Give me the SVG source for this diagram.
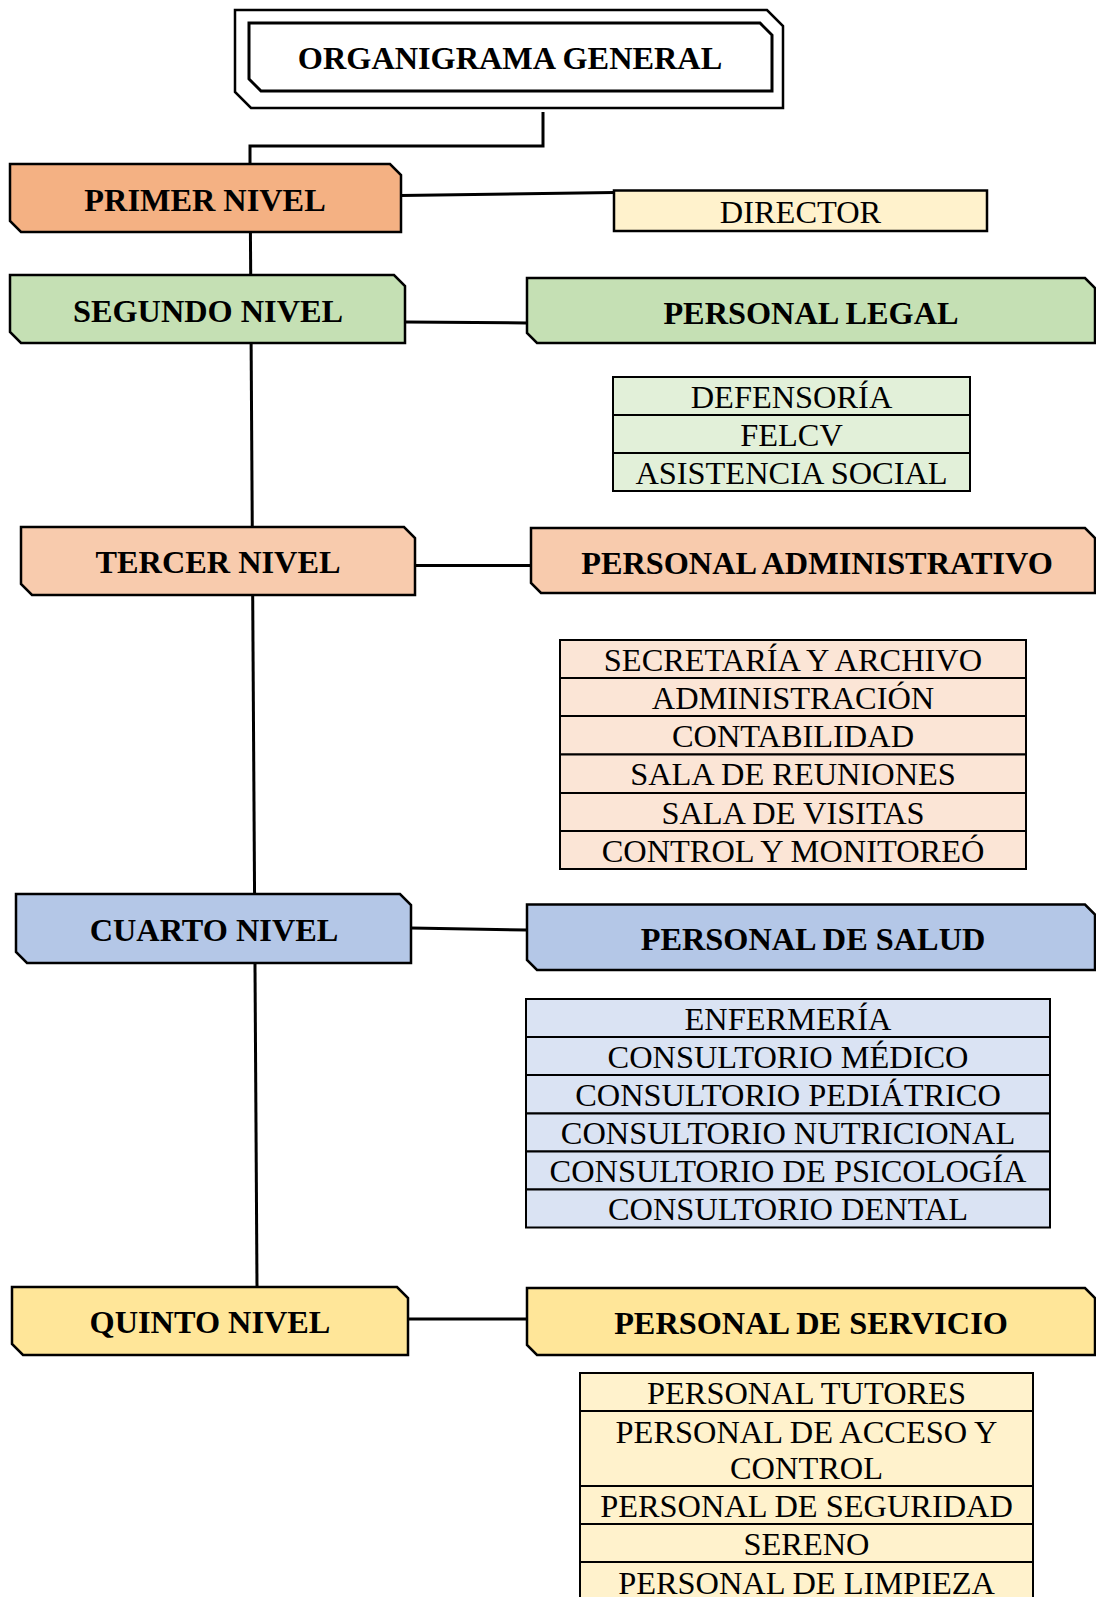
<svg xmlns="http://www.w3.org/2000/svg" width="1096" height="1597" viewBox="0 0 1096 1597">
<style>
.box{stroke:#000;stroke-width:2.5;stroke-linejoin:miter}
.tbl{stroke:#000;stroke-width:2}
.con{stroke:#000;stroke-width:3;fill:none}
.h{font-family:"Liberation Serif","Times New Roman",serif;font-weight:bold;font-size:32.3px;text-anchor:middle;fill:#000}
.t{font-family:"Liberation Serif","Times New Roman",serif;font-size:32.4px;text-anchor:middle;fill:#000}
.orange{fill:#F4B183}.green{fill:#C5E0B4}.peach{fill:#F8CBAD}.blue{fill:#B4C7E7}.gold{fill:#FFE699}
.cream{fill:#FFF2CC}.lgreen{fill:#E2F0D9}.lpeach{fill:#FBE5D6}.lblue{fill:#DAE3F3}
</style>
<rect width="1096" height="1597" fill="#fff"/>
<g id="connectors">
<polyline class="con" points="543,112 543,146 250,146 250,164"/>
<line class="con" x1="250" y1="164" x2="257" y2="1288"/>
<line class="con" x1="401" y1="195.5" x2="614" y2="192.5"/>
<line class="con" x1="405" y1="322" x2="527" y2="323"/>
<line class="con" x1="415" y1="565.5" x2="531" y2="565.5"/>
<line class="con" x1="411" y1="928" x2="527" y2="930"/>
<line class="con" x1="408" y1="1319" x2="527" y2="1319"/>
</g>
<g id="title">
<polygon points="235,10 767,10 783,26 783,108 251,108 235,92" fill="#fff" stroke="#000" stroke-width="2.5"/>
<polygon points="249,23 760,23 772,35 772,91 261,91 249,79" fill="#fff" stroke="#000" stroke-width="3"/>
<text class="h" x="510" y="69">ORGANIGRAMA GENERAL</text>
</g>
<g id="primer-nivel">
<polygon class="box orange" points="10,164 390,164 401,175 401,232 21,232 10,221"/>
<text class="h" x="205" y="211">PRIMER NIVEL</text>
</g>
<g id="director">
<rect class="box cream" x="614" y="190.5" width="373" height="40.5"/>
<text class="t" x="800.5" y="223">DIRECTOR</text>
</g>
<g id="segundo-nivel">
<polygon class="box green" points="10,275 394,275 405,286 405,343 21,343 10,332"/>
<text class="h" x="208" y="322">SEGUNDO NIVEL</text>
</g>
<g id="personal-legal">
<polygon class="box green" points="527,278 1085,278 1095,288 1095,343 537,343 527,333"/>
<text class="h" x="811" y="324">PERSONAL LEGAL</text>
</g>
<g id="lista-legal">
<rect class="tbl lgreen" x="613" y="377" width="357" height="38"/>
<rect class="tbl lgreen" x="613" y="415" width="357" height="38"/>
<rect class="tbl lgreen" x="613" y="453" width="357" height="38"/>
<text class="t" x="791.5" y="407.5">DEFENSORÍA</text>
<text class="t" x="791.5" y="445.5">FELCV</text>
<text class="t" x="791.5" y="483.5">ASISTENCIA SOCIAL</text>
</g>
<g id="tercer-nivel">
<polygon class="box peach" points="21,527 404,527 415,538 415,595 32,595 21,584"/>
<text class="h" x="218" y="573">TERCER NIVEL</text>
</g>
<g id="personal-administrativo">
<polygon class="box peach" points="531,528 1085,528 1095,538 1095,593 541,593 531,583"/>
<text class="h" x="817" y="574">PERSONAL ADMINISTRATIVO</text>
</g>
<g id="lista-administrativo">
<rect class="tbl lpeach" x="560" y="640" width="466" height="38"/>
<rect class="tbl lpeach" x="560" y="678" width="466" height="38"/>
<rect class="tbl lpeach" x="560" y="716" width="466" height="38.5"/>
<rect class="tbl lpeach" x="560" y="754.5" width="466" height="38.5"/>
<rect class="tbl lpeach" x="560" y="793" width="466" height="38"/>
<rect class="tbl lpeach" x="560" y="831" width="466" height="38"/>
<text class="t" x="793" y="670.5">SECRETARÍA Y ARCHIVO</text>
<text class="t" x="793" y="708.5">ADMINISTRACIÓN</text>
<text class="t" x="793" y="746.5">CONTABILIDAD</text>
<text class="t" x="793" y="785">SALA DE REUNIONES</text>
<text class="t" x="793" y="823.5">SALA DE VISITAS</text>
<text class="t" x="793" y="861.5">CONTROL Y MONITOREÓ</text>
</g>
<g id="cuarto-nivel">
<polygon class="box blue" points="16,894 400,894 411,905 411,963 27,963 16,952"/>
<text class="h" x="214" y="941">CUARTO NIVEL</text>
</g>
<g id="personal-salud">
<polygon class="box blue" points="527,904.5 1085,904.5 1095,914.5 1095,970 537,970 527,960"/>
<text class="h" x="813" y="950">PERSONAL DE SALUD</text>
</g>
<g id="lista-salud">
<rect class="tbl lblue" x="526" y="999" width="524" height="38"/>
<rect class="tbl lblue" x="526" y="1037" width="524" height="38"/>
<rect class="tbl lblue" x="526" y="1075" width="524" height="38.5"/>
<rect class="tbl lblue" x="526" y="1113.5" width="524" height="38"/>
<rect class="tbl lblue" x="526" y="1151.5" width="524" height="38"/>
<rect class="tbl lblue" x="526" y="1189.5" width="524" height="38"/>
<text class="t" x="788" y="1029.5">ENFERMERÍA</text>
<text class="t" x="788" y="1067.5">CONSULTORIO MÉDICO</text>
<text class="t" x="788" y="1105.5">CONSULTORIO PEDIÁTRICO</text>
<text class="t" x="788" y="1144">CONSULTORIO NUTRICIONAL</text>
<text class="t" x="788" y="1182">CONSULTORIO DE PSICOLOGÍA</text>
<text class="t" x="788" y="1220">CONSULTORIO DENTAL</text>
</g>
<g id="quinto-nivel">
<polygon class="box gold" points="12,1287 397,1287 408,1298 408,1355 23,1355 12,1344"/>
<text class="h" x="210" y="1333">QUINTO NIVEL</text>
</g>
<g id="personal-servicio">
<polygon class="box gold" points="527,1288 1085,1288 1095,1298 1095,1355 537,1355 527,1345"/>
<text class="h" x="811" y="1334">PERSONAL DE SERVICIO</text>
</g>
<g id="lista-servicio">
<rect class="tbl cream" x="580" y="1373" width="453" height="38"/>
<rect class="tbl cream" x="580" y="1411" width="453" height="75"/>
<rect class="tbl cream" x="580" y="1486" width="453" height="38"/>
<rect class="tbl cream" x="580" y="1524" width="453" height="38"/>
<rect class="tbl cream" x="580" y="1562" width="453" height="40"/>
<text class="t" x="806.5" y="1404">PERSONAL TUTORES</text>
<text class="t" x="806.5" y="1443">PERSONAL DE ACCESO Y</text>
<text class="t" x="806.5" y="1479">CONTROL</text>
<text class="t" x="806.5" y="1517">PERSONAL DE SEGURIDAD</text>
<text class="t" x="806.5" y="1555">SERENO</text>
<text class="t" x="806.5" y="1594">PERSONAL DE LIMPIEZA</text>
</g>
</svg>
